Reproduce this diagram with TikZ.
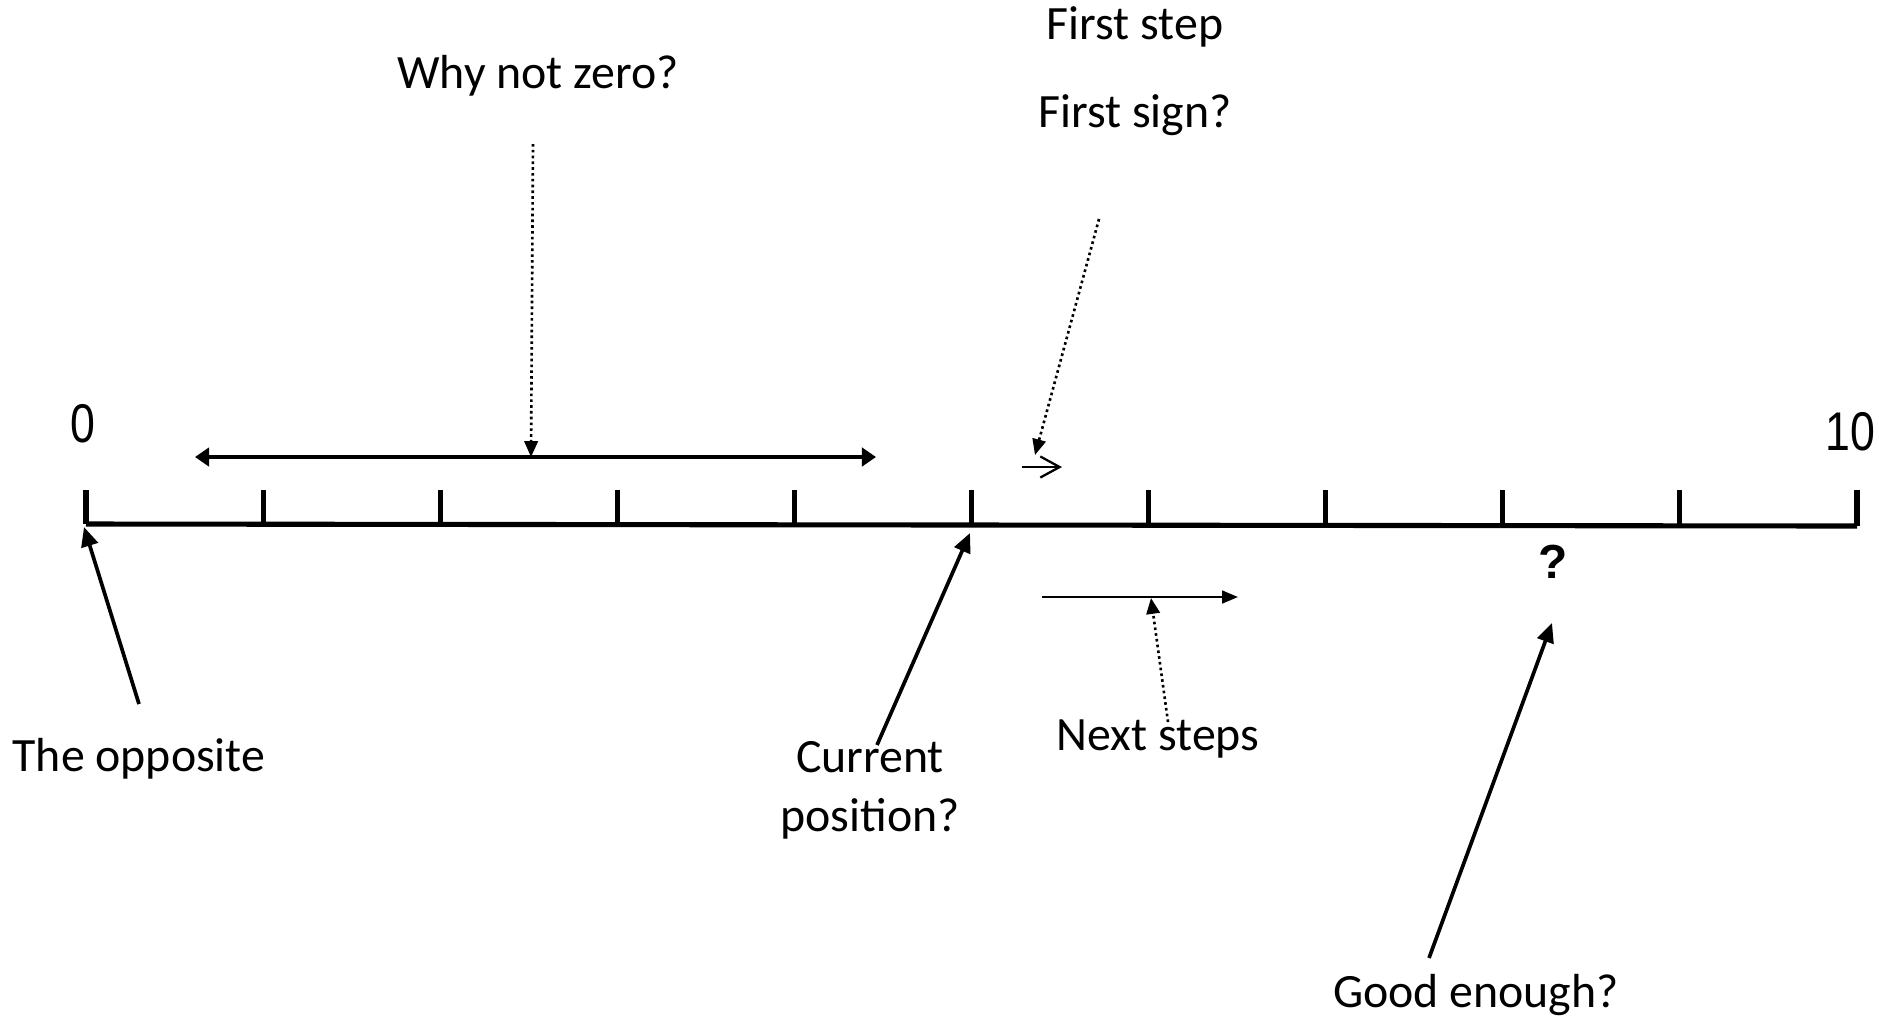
\documentclass[tikz,border=0pt]{standalone}
\usepackage{fontspec}
\setmainfont{Carlito}
\newfontfamily\arialf{Liberation Sans}
\usetikzlibrary{arrows.meta}
\begin{document}
\begin{tikzpicture}[x=0.01cm,y=-0.01cm,
  lbl/.style={font=\fontsize{13.6}{16.8}\selectfont, inner sep=0pt, align=center},
  num/.style={font=\arialf\fontsize{15.5}{18}\selectfont, inner sep=0pt, xscale=0.82},
  qm/.style={font=\arialf\bfseries\fontsize{13.6}{16}\selectfont, inner sep=0pt},
  axisline/.style={line width=1.45pt},
  tickmark/.style={line width=1.45pt},
  span/.style={line width=1.1pt, {Triangle[length=4pt,width=5.2pt]}-{Triangle[length=4pt,width=5.2pt]}},
  pointer/.style={line width=1.05pt, -{Triangle[length=5.5pt,width=4.8pt]}},
  thinptr/.style={line width=0.65pt, -{Triangle[length=4.5pt,width=3.6pt]}},
  dotptr/.style={line width=0.75pt, dash pattern=on 0.75pt off 0.9pt, -{Triangle[length=4.5pt,width=3.8pt]}},
  openptr/.style={line width=0.65pt, -{Straight Barb[length=5.5pt,width=6pt]}}
]
\useasboundingbox (0,0) rectangle (1879,1017);

% axis
\coordinate (a0) at (86,524);
\coordinate (a10) at (1857,526);
\draw[axisline] (a0) -- (a10);
\foreach \i in {0,...,10} {
  \pgfmathsetmacro{\xx}{86+177.1*\i}
  \pgfmathsetmacro{\yy}{524+0.2*\i}
  \coordinate (t\i) at (\xx,\yy);
  \draw[tickmark] (\xx,490) -- (t\i);
}

% numbers
\node[num] (n0) at (83,424) {0};
\node[num] (n10) at (1850,432) {10};
\node[qm] (q) at (1553,562) {?};

% span arrow
\coordinate (sL) at (195,457);
\coordinate (sR) at (876,457);
\coordinate (sM) at (531,457);
\draw[span] (sL) -- (sR);

% Why not zero
\node[lbl] (why) at (538,76) {Why not zero?};
\coordinate (whyS) at (533,144);
\draw[dotptr] (whyS) -- (sM);

% First step / First sign
\node[lbl] (fstep) at (1135,27) {First step};
\node[lbl] (fsign) at (1135,115) {First sign?};
\coordinate (fsS) at (1099,219);
\coordinate (fsE) at (1035,455);
\draw[dotptr] (fsS) -- (fsE);
\coordinate (stA) at (1022,467);
\coordinate (stB) at (1062,467);
\draw[openptr] (stA) -- (stB);

% Next steps
\coordinate (nsA) at (1042,597);
\coordinate (nsB) at (1238,597);
\coordinate (nsM) at (1151,598);
\draw[thinptr] (nsA) -- (nsB);
\node[lbl] (next) at (1158,739) {Next steps};
\coordinate (nextN) at (1168,722);
\draw[dotptr] (nextN) -- (nsM);

% The opposite
\node[lbl] (opp) at (139,759) {The opposite};
\coordinate (oppN) at (139,704);
\coordinate (oppT) at (84,527);
\draw[pointer] (oppN) -- (oppT);

% Current position
\node[lbl] (cur) at (870,790) {Current\\position?};
\coordinate (curN) at (877,745);
\coordinate (curT) at (970,533);
\draw[pointer] (curN) -- (curT);

% Good enough
\node[lbl] (good) at (1476,995) {Good enough?};
\coordinate (goodN) at (1429,958);
\coordinate (goodT) at (1552,623);
\draw[pointer] (goodN) -- (goodT);
\end{tikzpicture}
\end{document}
